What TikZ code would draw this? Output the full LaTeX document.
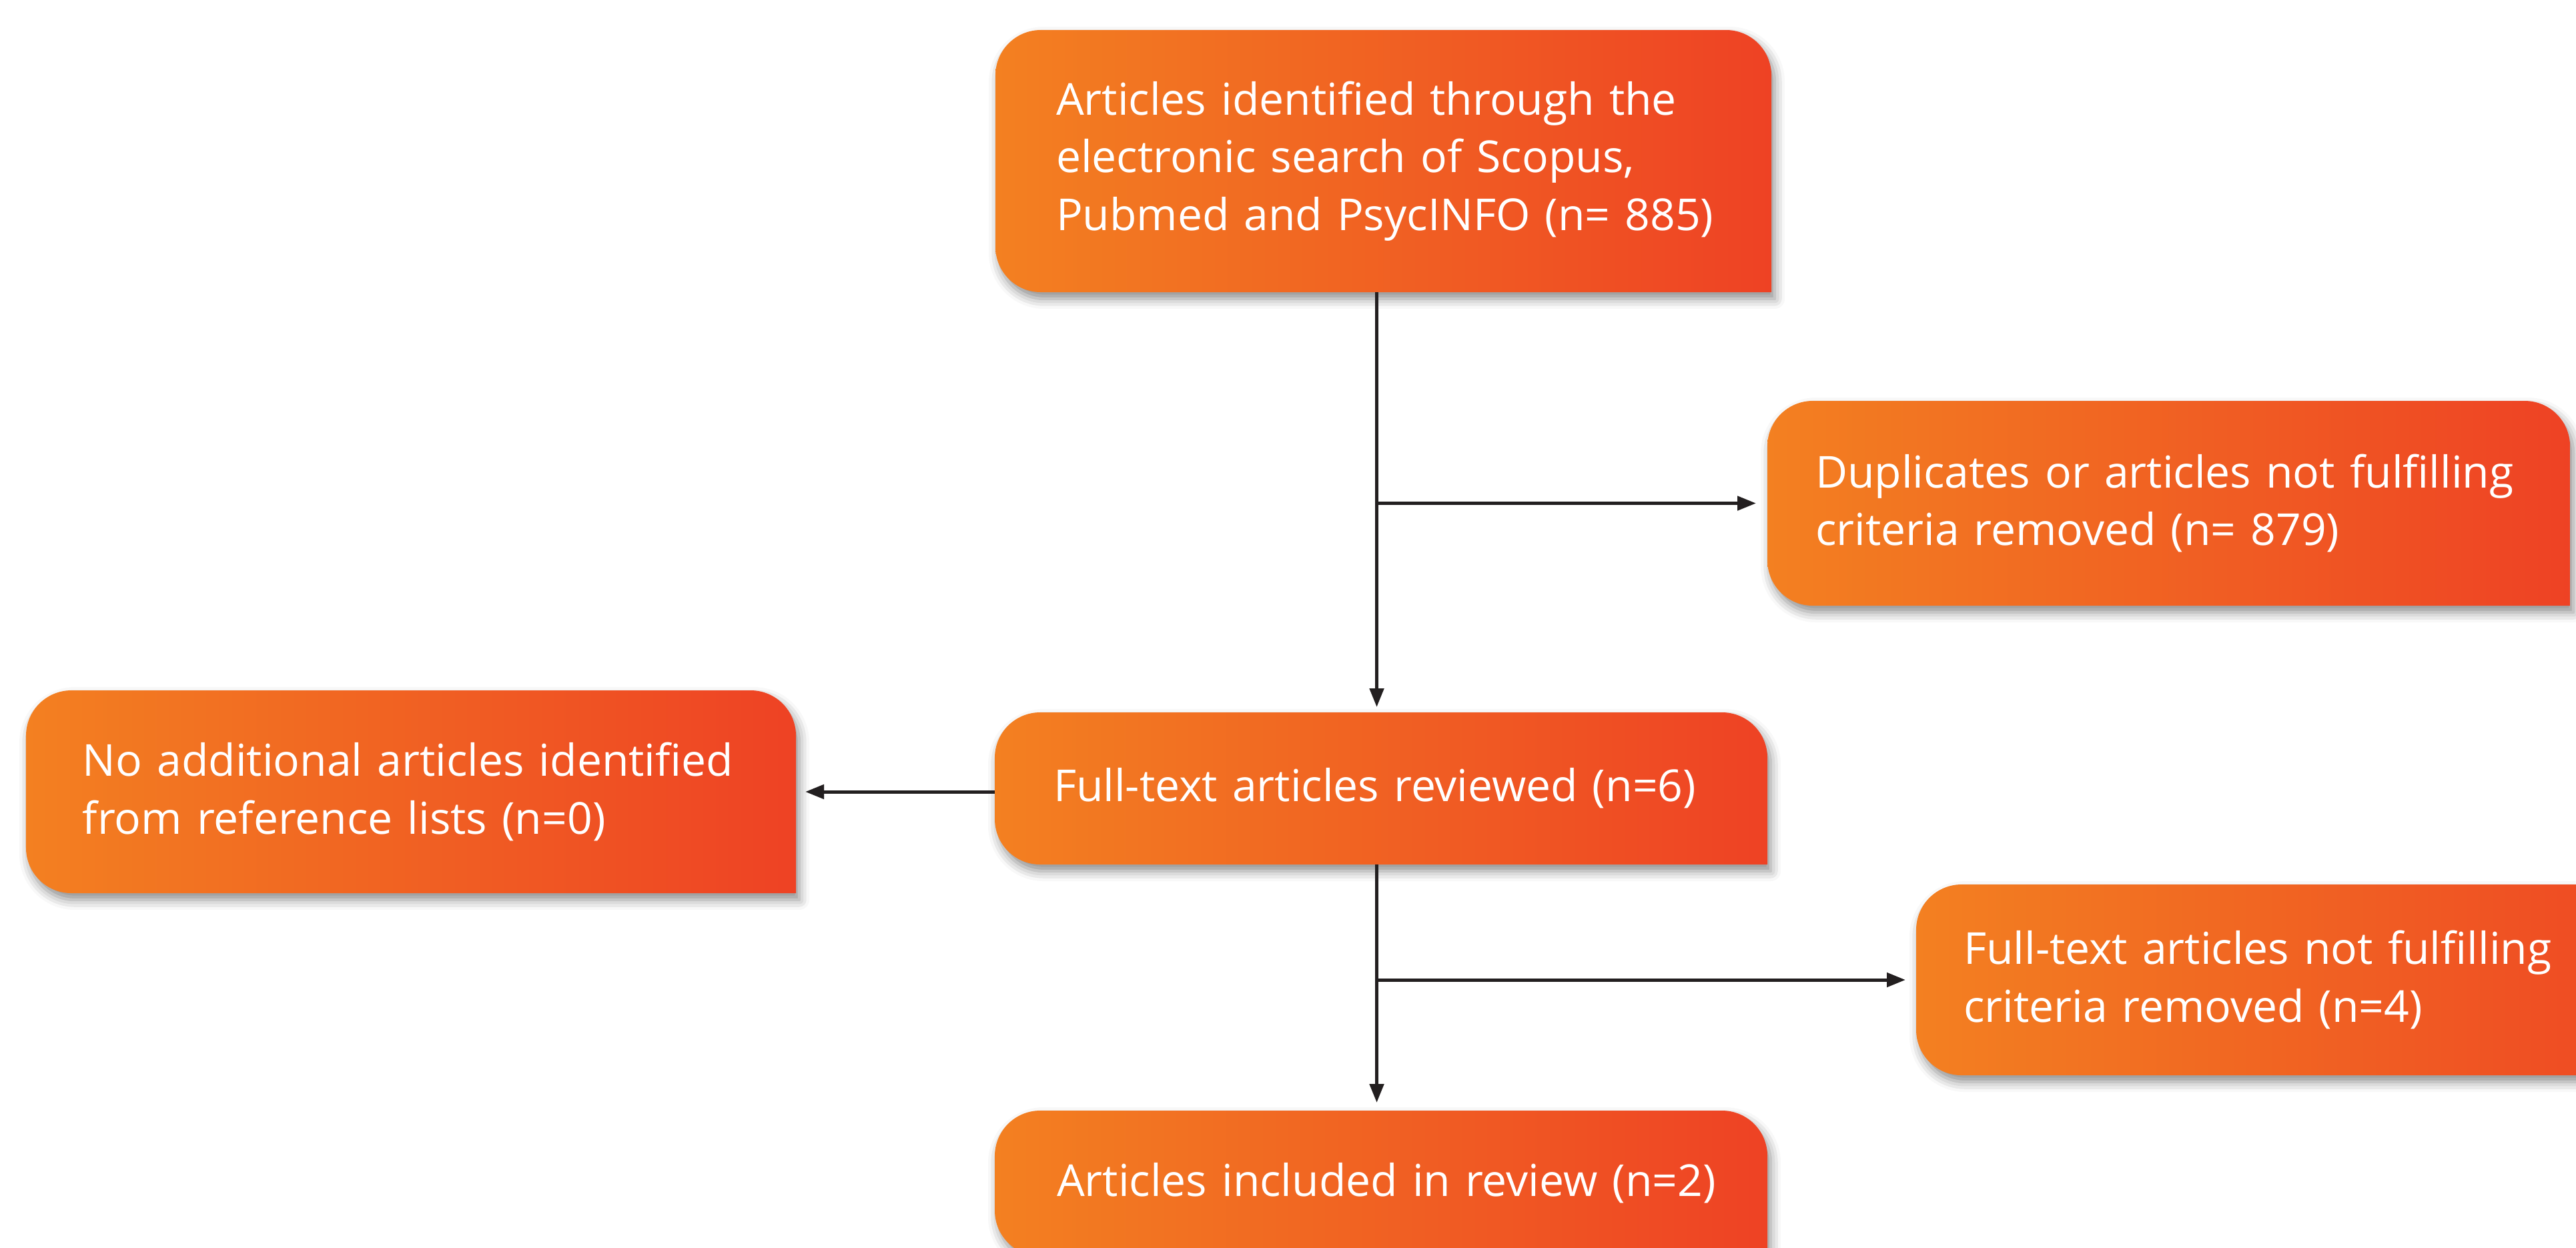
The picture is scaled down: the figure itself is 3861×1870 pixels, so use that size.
\documentclass[tikz,border=0pt]{standalone}
\usepackage{fontspec}
\setmainfont{Open Sans}
\usetikzlibrary{arrows.meta,calc,backgrounds,shadows.blur}
\definecolor{boxorange}{RGB}{243,128,33}
\definecolor{boxred}{RGB}{238,66,36}
\definecolor{linegray}{RGB}{35,31,32}

\begin{document}
\begin{tikzpicture}[x=0.2pt,y=0.2pt,yscale=-1,
    flowbox/.style n args={3}{text width=#1, minimum height=#2, inner sep=0pt, align=left, text=white,
      font=\fontsize{13.2}{17.3}\selectfont, execute at begin node={\leftskip=#3}},
    boxfill/.style={left color=boxorange, right color=boxred,
      blur shadow={shadow xshift=1pt, shadow yshift=-2pt, shadow blur radius=3pt, shadow opacity=45}},
    flowarrow/.style={draw=linegray, line width=1pt, -{Triangle[length=5.6pt,width=4.2pt]}}]
    \useasboundingbox (0,0) rectangle (3861,1870);

    % Text Node
    \node[flowbox={232.2pt}{78.2pt}{18pt}] (ident) at (2073.5,241.5) {Articles identified through the\\electronic search of Scopus,\\Pubmed and PsycINFO (n= 885)};
    % Text Node
    \node[flowbox={240.2pt}{61pt}{14.2pt}] (dup) at (3250.5,754.5) {Duplicates or articles not fulfilling\\criteria removed (n= 879)};
    % Text Node
    \node[flowbox={230.4pt}{60.4pt}{16.8pt}] (noadd) at (616,1187) {No additional articles identified\\from reference lists (n=0)};
    % Text Node
    \node[flowbox={231.2pt}{45.2pt}{17.4pt}] (full) at (2070,1182) {Full-text articles reviewed (n=6)};
    % Text Node
    \node[flowbox={240.2pt}{56.8pt}{14pt}] (excl) at (3473.5,1469) {Full-text articles not fulfilling\\criteria removed (n=4)};
    % Text Node
    \node[flowbox={231.2pt}{43.2pt}{18.4pt}] (incl) at (2070,1774) {Articles included in review (n=2)};

    %Shape: Box [three round corners, square at bottom right]
    \begin{scope}[on background layer]
    \foreach \n in {ident,dup,noadd,full,excl,incl}
        \path[boxfill] (\n.south east) -- ($(\n.north east)+(0,68)$)
            .. controls ($(\n.north east)+(0,30.4)$) and ($(\n.north east)+(-30.4,0)$) .. ($(\n.north east)+(-68,0)$)
            -- ($(\n.north west)+(68,0)$)
            .. controls ($(\n.north west)+(30.4,0)$) and ($(\n.north west)+(0,30.4)$) .. ($(\n.north west)+(0,68)$)
            -- ($(\n.south west)+(0,-68)$)
            .. controls ($(\n.south west)+(0,-30.4)$) and ($(\n.south west)+(30.4,0)$) .. ($(\n.south west)+(68,0)$)
            -- cycle;
    \end{scope}

    %Straight Lines
    \coordinate (spine) at (2063.5,0);
    \draw[flowarrow, shorten >=1.6pt] (ident.south -| spine) -- (full.north -| spine);
    \draw[flowarrow, shorten >=3.4pt] (spine |- dup.west) -- (dup.west);
    \draw[flowarrow, shorten >=2.8pt] (noadd.east -| full.west) -- (noadd.east);
    \draw[flowarrow, shorten >=2.4pt] (full.south -| spine) -- (incl.north -| spine);
    \draw[flowarrow, shorten >=3.2pt] (spine |- excl.west) -- (excl.west);
\end{tikzpicture}
\end{document}
